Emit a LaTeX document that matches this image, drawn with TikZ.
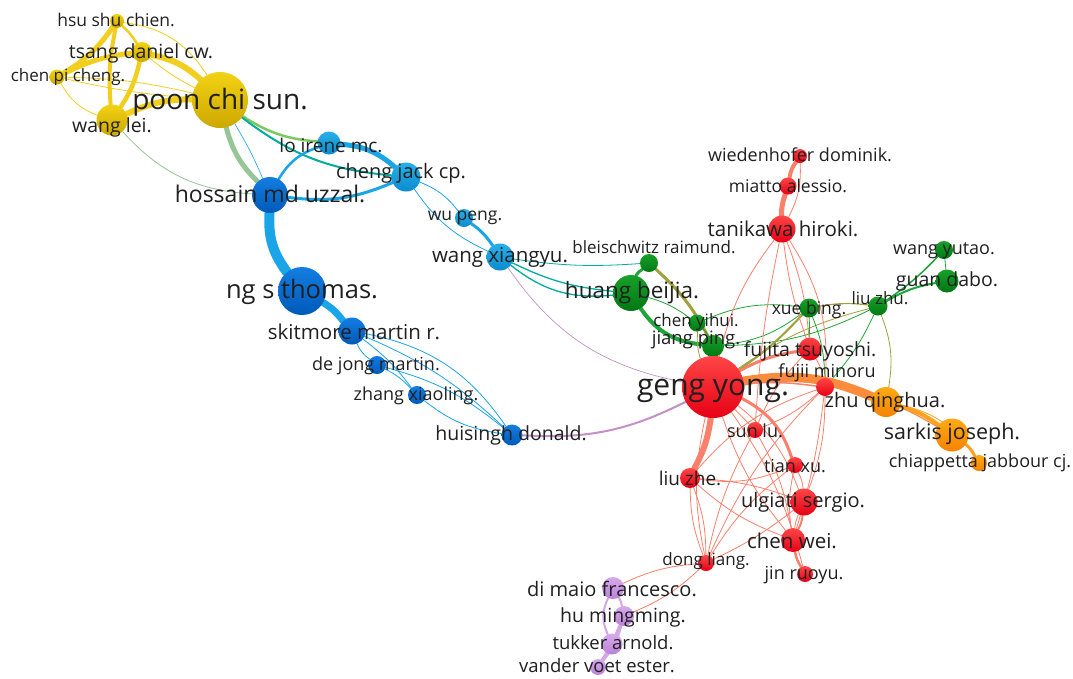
\documentclass[tikz,border=0pt]{standalone}
\usepackage{fontspec}
\setmainfont{Open Sans}
\usetikzlibrary{backgrounds}
% cluster colours
\definecolor{yelT}{RGB}{242,210,20}
\definecolor{yelB}{RGB}{205,168,0}
\definecolor{bluLT}{RGB}{40,175,235}
\definecolor{bluLB}{RGB}{10,140,205}
\definecolor{bluDT}{RGB}{20,125,225}
\definecolor{bluDB}{RGB}{0,90,185}
\definecolor{grnT}{RGB}{25,160,40}
\definecolor{grnB}{RGB}{0,120,20}
\definecolor{redT}{RGB}{255,70,70}
\definecolor{redB}{RGB}{230,0,20}
\definecolor{orgT}{RGB}{255,170,20}
\definecolor{orgB}{RGB}{245,130,0}
\definecolor{purT}{RGB}{215,170,235}
\definecolor{purB}{RGB}{185,130,215}
% link colours
\definecolor{eYel}{RGB}{242,206,30}
\definecolor{eBlu}{RGB}{25,165,232}
\definecolor{eGrn}{RGB}{30,165,55}
\definecolor{eRed}{RGB}{250,128,108}
\definecolor{eOrg}{RGB}{255,160,30}
\definecolor{ePur}{RGB}{212,165,235}
\definecolor{eYB}{RGB}{150,198,150}
\definecolor{eYG}{RGB}{125,200,95}
\definecolor{eBG}{RGB}{0,172,160}
\definecolor{eBR}{RGB}{195,145,200}
\definecolor{eGO}{RGB}{160,160,60}
\definecolor{eRO}{RGB}{252,140,60}
\definecolor{labtext}{RGB}{32,32,32}
\tikzset{%
  au/.style={circle, inner sep=0pt, minimum size=#1},
  cYel/.style={top color=yelT, bottom color=yelB},
  cBluL/.style={top color=bluLT, bottom color=bluLB},
  cBluD/.style={top color=bluDT, bottom color=bluDB},
  cGrn/.style={top color=grnT, bottom color=grnB},
  cRed/.style={top color=redT, bottom color=redB},
  cOrg/.style={top color=orgT, bottom color=orgB},
  cPur/.style={top color=purT, bottom color=purB},
  lb/.style={font=\fontsize{#1}{#1}\selectfont, text=labtext, inner sep=0pt},
  lk/.style={draw=#1, line cap=round},
  w/.style={line width=#1pt},
  w/.default=0.8
}

\begin{document}
\begin{tikzpicture}[x=1pt,y=-1pt]
\useasboundingbox (0,0) rectangle (1073,678);

% authors, yellow
\node[au=14,cYel] (hsu) at (117,21) {};
\node[au=20,cYel] (tsang) at (142,52) {};
\node[au=15,cYel] (chenpi) at (57,77) {};
\node[au=31,cYel] (wanglei) at (112,120) {};
\node[au=56,cYel] (poon) at (220,100) {};
% authors, blue
\node[au=23,cBluL] (loirene) at (329,143) {};
\node[au=29,cBluL] (chengjack) at (406,177) {};
\node[au=18,cBluL] (wupeng) at (464,218) {};
\node[au=27,cBluL] (wangxy) at (500,257) {};
\node[au=36,cBluD] (hossain) at (270,195) {};
\node[au=48,cBluD] (ngst) at (302,291) {};
\node[au=27,cBluD] (skit) at (352,331) {};
\node[au=18,cBluD] (dejong) at (377,365) {};
\node[au=18,cBluD] (zhangxl) at (417,395) {};
\node[au=21,cBluD] (huis) at (512,435) {};
% authors, green
\node[au=18,cGrn] (bleis) at (649,263) {};
\node[au=36,cGrn] (huang) at (631,293) {};
\node[au=17,cGrn] (chenyh) at (697,323) {};
\node[au=22,cGrn] (jiang) at (713,346) {};
\node[au=19,cGrn] (xue) at (809,308) {};
\node[au=19,cGrn] (liuzhu) at (878,306) {};
\node[au=18,cGrn] (wangyt) at (944,250) {};
\node[au=23,cGrn] (guan) at (947,281) {};
% authors, red
\node[au=14,cRed] (wieden) at (800,156) {};
\node[au=17,cRed] (miatto) at (788,186) {};
\node[au=27,cRed] (tanik) at (782,229) {};
\node[au=23,cRed] (fujita) at (810,349) {};
\node[au=18,cRed] (fujii) at (825,387) {};
\node[au=62,cRed] (geng) at (713,387) {};
\node[au=16,cRed] (sunlu) at (755,430) {};
\node[au=16,cRed] (tianxu) at (795,465) {};
\node[au=20,cRed] (liuzhe) at (690,478) {};
\node[au=27,cRed] (ulgiati) at (804,502) {};
\node[au=24,cRed] (chenwei) at (793,540) {};
\node[au=16,cRed] (dong) at (706,563) {};
\node[au=16,cRed] (jin) at (805,574) {};
% authors, orange
\node[au=30,cOrg] (zhuqh) at (886,402) {};
\node[au=33,cOrg] (sarkis) at (952,435) {};
\node[au=16,cOrg] (chiap) at (979,463) {};
% authors, purple
\node[au=22,cPur] (dimaio) at (613,588) {};
\node[au=20,cPur] (humm) at (624,616) {};
\node[au=21,cPur] (tukker) at (612,644) {};
\node[au=16,cPur] (vander) at (598,667) {};

\begin{scope}[on background layer]
\fill[white] (0,0) rectangle (1073,678);
% yellow links
\draw[lk=eYel, w=5] (hsu) to[bend left=12] (chenpi);
\draw[lk=eYel, w=5] (chenpi) to[bend left=10] (tsang);
\draw[lk=eYel, w=2.5] (hsu) to[bend left=8] (tsang);
\draw[lk=eYel, w=4] (hsu) to[bend right=8] (wanglei);
\draw[lk=eYel, w=4.5] (tsang) to[bend left=10] (wanglei);
\draw[lk=eYel, w=6] (tsang) to[bend left=15] (poon);
\draw[lk=eYel, w=6] (wanglei) to[bend left=12] (poon);
\draw[lk=eYel, w] (chenpi) to[bend right=20] (wanglei);
\draw[lk=eYel, w] (chenpi) to[bend left=6] (poon);
\draw[lk=eYel, w] (chenpi) to[bend right=4] (poon);
\draw[lk=eYel, w] (hsu) to[bend left=25] (poon);
\draw[lk=eYel, w] (tsang) to[bend right=6] (poon);
\draw[lk=eYB, w] (wanglei) to[bend right=22] (hossain);
\draw[lk=eYB, w=5] (poon) to[bend right=15] (hossain);
\draw[lk=eBlu, w=0.6] (poon) to[bend left=4] (hossain);
\draw[lk=eYG, w=2.5] (poon) to[bend right=14] (loirene);
\draw[lk=eBG, w=2] (poon) to[bend right=16] (chengjack);
% blue links
\draw[lk=eBlu, w=2.5] (hossain) to[bend left=20] (loirene);
\draw[lk=eBlu, w=5] (loirene) to[bend left=18] (chengjack);
\draw[lk=eBlu, w=3] (hossain) to[bend right=15] (chengjack);
\draw[lk=eBlu, w] (chengjack) to[bend left=15] (wupeng);
\draw[lk=eBlu, w] (chengjack) to[bend right=15] (wangxy);
\draw[lk=eBlu, w=3] (wupeng) to[bend left=10] (wangxy);
\draw[lk=eBlu, w=10] (hossain) to[bend right=20] (ngst);
\draw[lk=eBlu, w=7] (ngst) to[bend left=10] (skit);
\draw[lk=eBlu, w] (skit) to[bend right=15] (dejong);
\draw[lk=eBlu, w] (skit) to[bend left=8] (zhangxl);
\draw[lk=eBlu, w] (skit) to[bend left=22] (huis);
\draw[lk=eBlu, w] (skit) to[bend left=10] (huis);
\draw[lk=eBlu, w] (dejong) to[bend left=10] (zhangxl);
\draw[lk=eBlu, w] (dejong) to[bend left=12] (huis);
\draw[lk=eBlu, w] (zhangxl) to[bend right=15] (huis);
\draw[lk=eBR, w=2] (huis) to[bend right=15] (geng);
\draw[lk=eBR, w=0.7] (wangxy) to[bend right=22] (geng);
\draw[lk=eBG, w=1.3] (wangxy) to[bend right=10] (huang);
\draw[lk=eBG, w=1.3] (wangxy) to[bend right=22] (huang);
\draw[lk=eBG, w] (wangxy) to[bend right=6] (bleis);
% green links
\draw[lk=eGrn, w=3] (bleis) to[bend right=15] (huang);
\draw[lk=eGrn, w=4] (huang) to[bend right=25] (jiang);
\draw[lk=eGO, w=3] (bleis) to[bend left=10] (jiang);
\draw[lk=eGrn, w] (huang) to[bend left=10] (chenyh);
\draw[lk=eGrn, w] (chenyh) to[bend left=10] (jiang);
\draw[lk=eGrn, w] (chenyh) to[bend left=15] (xue);
\draw[lk=eGrn, w] (jiang) to[bend right=15] (xue);
\draw[lk=eGrn, w] (jiang) to[bend right=12] (liuzhu);
\draw[lk=eGO, w=1.2] (xue) to[bend left=8] (liuzhu);
\draw[lk=eGrn, w=2] (liuzhu) to[bend left=10] (guan);
\draw[lk=eGrn, w=1.5] (liuzhu) to[bend right=6] (wangyt);
\draw[lk=eGrn, w] (wangyt) to (guan);
\draw[lk=eGO, w] (liuzhu) to[bend right=10] (geng);
\draw[lk=eGrn, w] (liuzhu) to[bend left=8] (fujii);
\draw[lk=eGO, w] (liuzhu) to[bend left=15] (zhuqh);
\draw[lk=eGO, w=2] (xue) to[bend left=6] (geng);
\draw[lk=eGrn, w] (xue) to (fujita);
\draw[lk=eGrn, w] (xue) to[bend left=10] (fujii);
\draw[lk=eRed, w] (jiang) to[bend left=10] (geng);
\draw[lk=eGO, w] (chenyh) to[bend right=10] (geng);
% red links
\draw[lk=eRed, w=4] (wieden) to[bend right=12] (miatto);
\draw[lk=eRed, w=5] (miatto) to[bend right=10] (tanik);
\draw[lk=eRed, w] (wieden) to[bend left=15] (tanik);
\draw[lk=eRed, w] (tanik) to[bend right=12] (geng);
\draw[lk=eRed, w] (tanik) to[bend left=8] (fujita);
\draw[lk=eRed, w] (tanik) to[bend right=6] (fujita);
\draw[lk=eRed, w] (tanik) to[bend left=18] (fujii);
\draw[lk=eRed, w] (tanik) to[bend right=4] (sunlu);
\draw[lk=eRed, w=6] (geng) to[bend left=10] (liuzhe);
\draw[lk=eRed, w=3] (geng) to[bend left=22] (tianxu);
\draw[lk=eRed, w=3] (geng) to[bend left=10] (fujita);
\draw[lk=eRO, w=9] (geng) to[bend left=16] (zhuqh);
\draw[lk=eOrg, w=4] (zhuqh) to[bend left=10] (sarkis);
\draw[lk=eOrg, w=3] (sarkis) to[bend left=12] (chiap);
\draw[lk=eOrg, w] (zhuqh) to[bend left=22] (chiap);
\draw[lk=eRO, w=1.2] (geng) to[bend left=18] (sarkis);
\draw[lk=eRed, w=1.5] (geng) to[bend left=6] (fujii);
\draw[lk=eRed, w] (geng) to (sunlu);
\draw[lk=eRed, w] (geng) to[bend left=15] (ulgiati);
\draw[lk=eRed, w] (geng) to[bend right=10] (chenwei);
\draw[lk=eRed, w] (geng) to[bend right=12] (dong);
\draw[lk=eRed, w] (geng) to[bend left=10] (jin);
\draw[lk=eRed, w] (liuzhe) to[bend right=15] (tianxu);
\draw[lk=eRed, w] (liuzhe) to[bend left=10] (dong);
\draw[lk=eRed, w] (liuzhe) to[bend right=10] (dong);
\draw[lk=eRed, w] (liuzhe) to[bend right=10] (chenwei);
\draw[lk=eRed, w] (liuzhe) to[bend left=8] (ulgiati);
\draw[lk=eRed, w] (sunlu) to[bend right=8] (dong);
\draw[lk=eRed, w] (sunlu) to[bend left=10] (chenwei);
\draw[lk=eRed, w] (sunlu) to[bend right=10] (fujii);
\draw[lk=eRed, w] (fujii) to[bend right=10] (dong);
\draw[lk=eRed, w] (fujii) to[bend right=15] (liuzhe);
\draw[lk=eRed, w] (fujii) to[bend left=5] (chenwei);
\draw[lk=eRed, w] (fujii) to[bend left=10] (ulgiati);
\draw[lk=eRed, w] (fujita) to[bend left=10] (fujii);
\draw[lk=eRed, w] (fujita) to[bend right=10] (sunlu);
\draw[lk=eRed, w] (tianxu) to[bend left=10] (ulgiati);
\draw[lk=eRed, w] (tianxu) to[bend right=10] (chenwei);
\draw[lk=eRed, w] (tianxu) to[bend right=10] (dong);
\draw[lk=eRed, w=2] (ulgiati) to[bend left=10] (chenwei);
\draw[lk=eRed, w] (ulgiati) to[bend right=8] (chenwei);
\draw[lk=eRed, w] (ulgiati) to[bend left=6] (dong);
\draw[lk=eRed, w=2.5] (chenwei) to[bend right=10] (jin);
\draw[lk=eRed, w] (dong) to[bend right=10] (dimaio);
\draw[lk=eRed, w] (dong) to[bend left=10] (humm);
% purple links
\draw[lk=ePur, w=2] (dimaio) to[bend left=10] (humm);
\draw[lk=ePur, w=2] (dimaio) to[bend right=25] (tukker);
\draw[lk=ePur, w=3] (humm) to (tukker);
\draw[lk=ePur, w=3] (tukker) to (vander);
\draw[lk=ePur, w=2] (humm) to[bend left=12] (vander);
\end{scope}

% labels
\node[lb=17.5] (hsuT) at (116,20) {hsu shu chien.};
\node[lb=19.5] (tsangT) at (141,53) {tsang daniel cw.};
\node[lb=17] (chenpiT) at (68,77) {chen pi cheng.};
\node[lb=19.5] (wangleiT) at (112,127) {wang lei.};
\node[lb=28] (poonT) at (220,102) {poon chi sun.};
\node[lb=19] (loireneT) at (331,145) {lo irene mc.};
\node[lb=20] (chengjackT) at (401,173) {cheng jack cp.};
\node[lb=23] (hossainT) at (270,194) {hossain md uzzal.};
\node[lb=17.5] (wupengT) at (465,218) {wu peng.};
\node[lb=20.5] (wangxyT) at (500,257) {wang xiangyu.};
\node[lb=25.5] (ngstT) at (302,292) {ng s thomas.};
\node[lb=20.5] (skitT) at (354,332) {skitmore martin r.};
\node[lb=18] (dejongT) at (376,366) {de jong martin.};
\node[lb=18] (zhangxlT) at (416,396) {zhang xiaoling.};
\node[lb=19.5] (huisT) at (511,435) {huisingh donald.};
\node[lb=17] (bleisT) at (654,247) {bleischwitz raimund.};
\node[lb=22.5] (huangT) at (632,293) {huang beijia.};
\node[lb=17] (chenyhT) at (696,322) {chen yihui.};
\node[lb=18.5] (jiangT) at (696,340) {jiang ping.};
\node[lb=17.5] (xueT) at (809,310) {xue bing.};
\node[lb=17] (liuzhuT) at (880,298) {liu zhu.};
\node[lb=18] (wangytT) at (944,251) {wang yutao.};
\node[lb=19.5] (guanT) at (947,281) {guan dabo.};
\node[lb=18] (wiedenT) at (800,155) {wiedenhofer dominik.};
\node[lb=17.5] (miattoT) at (788,186) {miatto alessio.};
\node[lb=20.5] (tanikT) at (783,229) {tanikawa hiroki.};
\node[lb=19.5] (fujitaT) at (810,351) {fujita tsuyoshi.};
\node[lb=18] (fujiiT) at (827,373) {fujii minoru};
\node[lb=30] (gengT) at (713,391) {geng yong.};
\node[lb=20] (zhuqhT) at (885,402) {zhu qinghua.};
\node[lb=21.5] (sarkisT) at (952,434) {sarkis joseph.};
\node[lb=18] (chiapT) at (980,463) {chiappetta jabbour cj.};
\node[lb=18] (sunluT) at (755,431) {sun lu.};
\node[lb=18] (tianxuT) at (795,466) {tian xu.};
\node[lb=19] (liuzheT) at (690,478) {liu zhe.};
\node[lb=20] (ulgiatiT) at (803,502) {ulgiati sergio.};
\node[lb=20.5] (chenweiT) at (792,541) {chen wei.};
\node[lb=17] (dongT) at (706,561) {dong liang.};
\node[lb=18] (jinT) at (804,575) {jin ruoyu.};
\node[lb=20] (dimaioT) at (612,589) {di maio francesco.};
\node[lb=19.5] (hummT) at (623,617) {hu mingming.};
\node[lb=18.5] (tukkerT) at (613,643) {tukker arnold.};
\node[lb=18.5] (vanderT) at (597,666) {vander voet ester.};
\end{tikzpicture}
\end{document}
